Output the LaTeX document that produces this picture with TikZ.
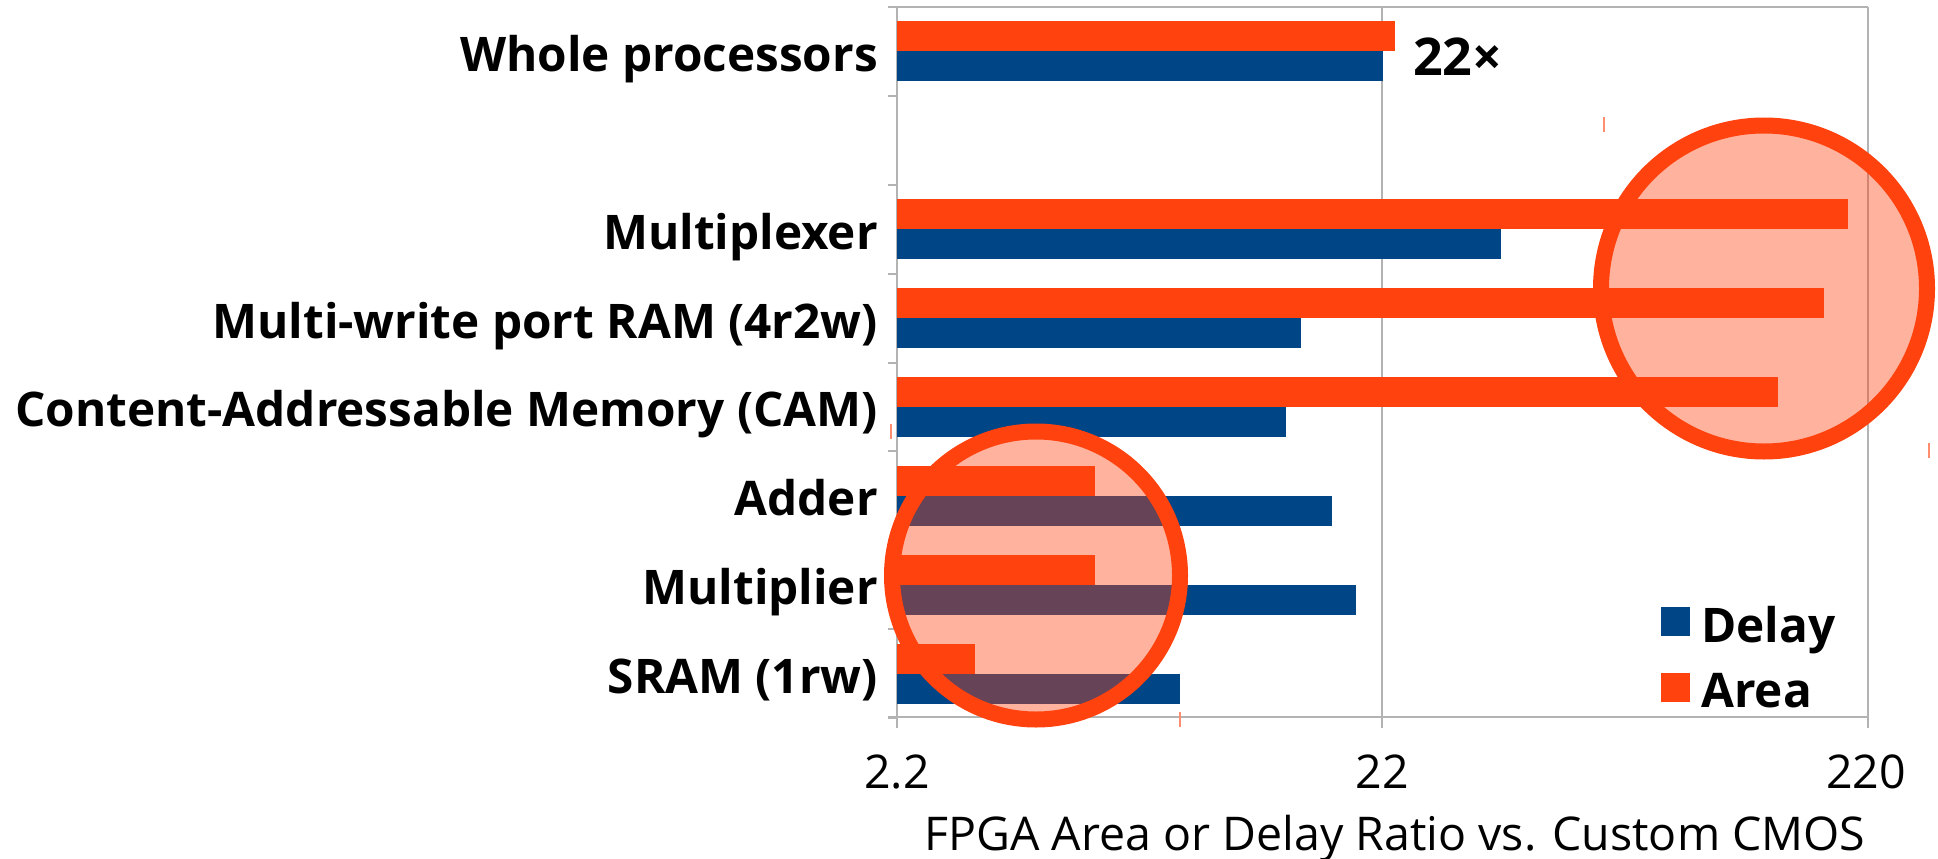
\documentclass[tikz,border=0pt]{standalone}
\usepackage{fontspec}
\setmainfont{Open Sans}

\definecolor{delayblue}{HTML}{004586}
\definecolor{areaorange}{HTML}{FF420E}
\definecolor{gridgray}{HTML}{B3B3B3}

\tikzset{
  catlabel/.style={anchor=base east, inner sep=0pt, font=\fontsize{47.7}{57}\selectfont\bfseries},
  ticklabel/.style={anchor=base, inner sep=0pt, font=\fontsize{46.5}{56}\selectfont},
  legendlabel/.style={anchor=base west, inner sep=0pt, font=\fontsize{47.7}{57}\selectfont\bfseries},
  delaybar/.style={fill=delayblue},
  areabar/.style={fill=areaorange},
  ring/.style={draw=areaorange, line width=16pt, fill=areaorange, fill opacity=0.4},
  gridline/.style={draw=gridgray, line width=2pt},
  handle/.style={draw=areaorange!60, line width=2pt},
}

\begin{document}
\begin{tikzpicture}[x=1pt, y=-1pt]
      \fill[white] (0,0) rectangle (1938,859);
      \useasboundingbox (0,0) rectangle (1938,859);

      % frame and grid
      \draw[gridline] (897,7) -- (1868,7);
      \draw[gridline] (1382,7) -- (1382,728);
      \draw[gridline] (1868,7) -- (1868,728);
      \draw[gridline] (897,7) -- (897,728);
      \draw[gridline] (888,717) -- (1868,717);
      \foreach \k in {0,...,8}
        \draw[gridline] (888,{7+88.875*\k}) -- (897,{7+88.875*\k});

      % bars: slot/name/label/area end/delay end
      \foreach \k/\n/\t/\a/\d in {
          0/whole/Whole processors/1395/1383,
          2/mux/Multiplexer/1848/1501,
          3/mwram/Multi-write port RAM (4r2w)/1824/1301,
          4/cam/Content-Addressable Memory (CAM)/1778/1286,
          5/adder/Adder/1095/1332,
          6/mult/Multiplier/1095/1356,
          7/sram/SRAM (1rw)/975/1180}{
        \pgfmathsetmacro{\yc}{7+88.875*(\k+0.5)}
        \fill[areabar] (897,{\yc-30}) rectangle (\a,\yc);
        \fill[delaybar] (897,\yc) rectangle (\d,{\yc+30});
        \node[catlabel] (\n) at (878,{\yc+20}) {\t};
      }

      % highlight rings
      \draw[ring] (1764,288.5) circle[radius=163pt];
      \draw[ring] (1036,575.5) circle[radius=144pt];
      \draw[handle] (1604,117) -- (1604,132);
      \draw[handle] (1929,443) -- (1929,458);
      \draw[handle] (891,424) -- (891,439);
      \draw[handle] (1180,712) -- (1180,727);

      % annotation
      \node[anchor=base west, inner sep=0pt, font=\fontsize{52}{62}\selectfont\bfseries] (ratio) at (1413,76) {22×};

      % legend
      \node[delaybar, minimum size=29pt, inner sep=0pt] (keydelay) at (1675.5,621.5) {};
      \node[areabar, minimum size=29pt, inner sep=0pt] (keyarea) at (1675.5,687.5) {};
      \node[legendlabel] (delay) at (1701,642) {Delay};
      \node[legendlabel] (area) at (1701,707) {Area};

      % x axis
      \node[ticklabel] (t1) at (897,788) {2.2};
      \node[ticklabel] (t2) at (1382,788) {22};
      \node[ticklabel] (t3) at (1866,788) {220};
      \node[ticklabel] (xtitle) at (1395,850) {FPGA Area or Delay Ratio vs. Custom CMOS};

    \end{tikzpicture}
\end{document}
